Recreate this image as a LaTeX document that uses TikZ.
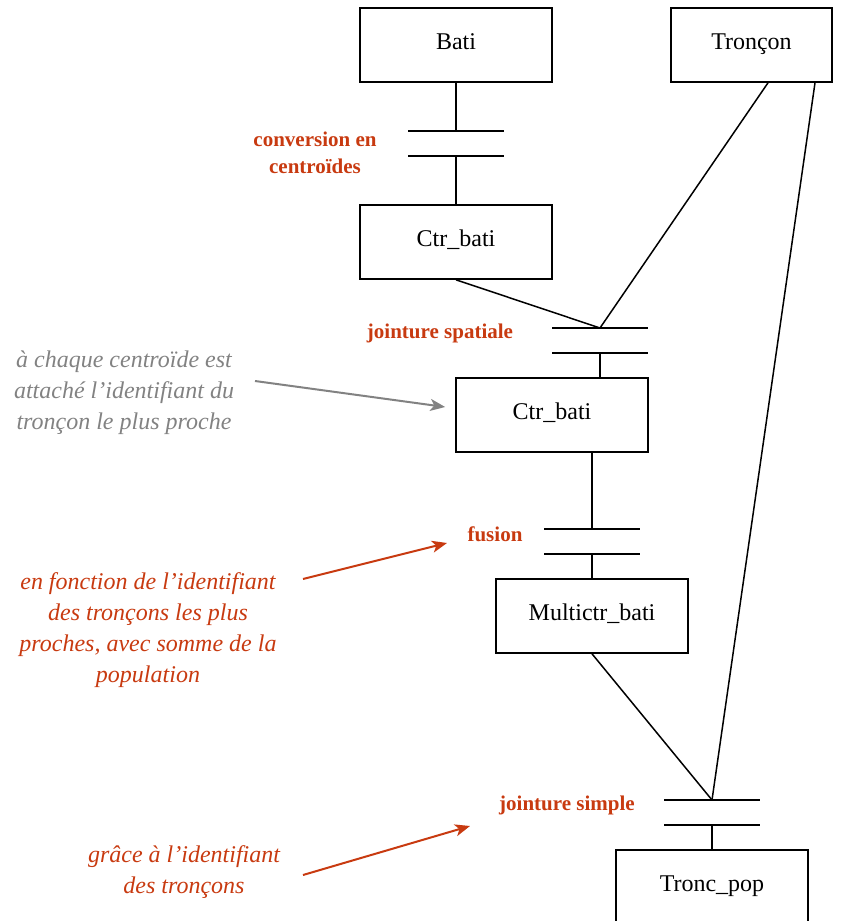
\documentclass[tikz,border=0pt]{standalone}
\usepackage{fontspec}
\setmainfont{Liberation Serif}
\usetikzlibrary{arrows.meta}
\definecolor{rouille}{RGB}{200,58,16}
\definecolor{grisnote}{RGB}{130,130,130}
\tikzset{
  etat/.style={draw, line width=1.6pt, minimum width=192pt, minimum height=74pt,
    inner sep=0pt, font=\fontsize{24}{28}\selectfont, text height=17pt, text depth=9pt},
  barre/.style={line width=1.6pt},
  lien/.style={line width=1.5pt},
  operation/.style={text=rouille, font=\bfseries\fontsize{21}{27}\selectfont, align=center},
  remarque/.style={font=\itshape\fontsize{24}{31}\selectfont, align=center},
  fleche/.style={line width=2pt, -{Stealth[length=15pt,width=12pt,inset=4pt]}},
}
\begin{document}
\begin{tikzpicture}[x=1pt,y=-1pt]
\useasboundingbox (0,0) rectangle (852,921);
% couches
\node[etat] (bati) at (456,45) {Bati};
\node[etat, minimum width=161pt] (troncon) at (751.5,45) {Tronçon};
\node[etat] (ctr) at (456,242) {Ctr\_bati};
\node[etat] (ctrj) at (552,415) {Ctr\_bati};
\node[etat] (multi) at (592,616) {Multictr\_bati};
\node[etat] (tpop) at (712,887) {Tronc\_pop};
% transitions
\coordinate (h1) at (456,131); \coordinate (b1) at (456,156);
\coordinate (h2) at (600,328); \coordinate (b2) at (600,353);
\coordinate (h3) at (592,529); \coordinate (b3) at (592,554);
\coordinate (h4) at (712,800); \coordinate (b4) at (712,825);
\foreach \i in {1,...,4} {
  \draw[barre] ([xshift=-48pt]h\i) -- ([xshift=48pt]h\i);
  \draw[barre] ([xshift=-48pt]b\i) -- ([xshift=48pt]b\i);
}
% liens
\draw[lien] (bati) -- (h1);
\draw[lien] (b1) -- (ctr);
\draw[lien] (ctr.south) -- (h2);
\draw[lien] ([xshift=16.5pt]troncon.south) -- (h2);
\draw[lien] (b2) -- (b2 |- ctrj.north);
\draw[lien] (ctrj.south -| h3) -- (h3);
\draw[lien] (b3) -- (multi);
\draw[lien] (multi.south) -- (h4);
\draw[lien] ([xshift=63.5pt]troncon.south) -- (h4);
\draw[lien] (b4) -- (tpop);
% operations
\node[operation] (conv) at (315,152.5) {conversion en\\centroïdes};
\node[operation] (spat) at (440,333) {jointure spatiale};
\node[operation] (fus) at (495,534) {fusion};
\node[operation] (simp) at (567,805) {jointure simple};
% remarques
\node[remarque, text=grisnote] (n1) at (124,393) {à chaque centroïde est\\attaché l'identifiant du\\tronçon le plus proche};
\node[remarque, text=rouille] (n2) at (148,630) {en fonction de l'identifiant\\des tronçons les plus\\proches, avec somme de la\\population};
\node[remarque, text=rouille] (n3) at (184,872) {grâce à l'identifiant\\des tronçons};
\draw[fleche, grisnote] ([shift={(131,-12)}]n1.center) -- ([shift={(-10,-8)}]ctrj.west);
\draw[fleche, rouille] ([shift={(155,-51)}]n2.center) -- ([shift={(-48,9)}]fus.center);
\draw[fleche, rouille] ([shift={(119,3)}]n3.center) -- ([shift={(-97,21)}]simp.center);
\end{tikzpicture}
\end{document}
